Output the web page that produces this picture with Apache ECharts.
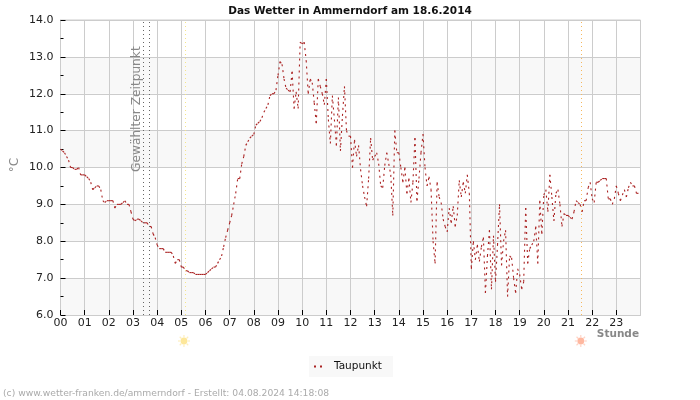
<!DOCTYPE html>
<html><head><meta charset="utf-8">
<script src="https://cdn.jsdelivr.net/npm/echarts@6/dist/echarts.min.js"></script>
<style>html,body{margin:0;padding:0;background:#fff}#c{width:700px;height:400px}</style>
</head><body><div id="c"></div>
<script>
const seriesName = 'Taupunkt';
const titleText = 'Das Wetter in Ammerndorf am 18.6.2014';
const footerText = '(c) www.wetter-franken.de/ammerndorf - Erstellt: 04.08.2024 14:18:08';
const selectedLabel = 'Gewählter Zeitpunkt';
const yAxisName = '°C';
const xAxisName = 'Stunde';
const hourLabels = ['00','01','02','03','04','05','06','07','08','09','10','11','12','13','14','15','16','17','18','19','20','21','22','23'];
const selectedHours = [3.43, 3.69];
const sunriseHour = 5.15;
const sunsetHour = 21.55;
// Dew point, one row per hour, one value every five minutes
const dewPoint = [
 10.5,10.45,10.4,10.3,10.2,10.0,10.0,9.95,9.95,10.0,9.8,9.8,
 9.8,9.75,9.7,9.6,9.4,9.45,9.5,9.5,9.4,9.1,9.05,9.1,
 9.1,9.1,9.1,8.9,9.0,9.0,9.0,9.05,9.1,9.0,9.0,8.8,
 8.6,8.55,8.6,8.6,8.55,8.5,8.5,8.5,8.4,8.4,8.2,8.1,
 7.9,7.8,7.8,7.8,7.7,7.7,7.7,7.7,7.6,7.4,7.5,7.5,
 7.3,7.3,7.2,7.2,7.15,7.15,7.15,7.1,7.1,7.1,7.1,7.1,
 7.1,7.15,7.2,7.25,7.3,7.3,7.4,7.5,7.6,7.85,8.1,8.3,
 8.5,8.7,9.0,9.3,9.7,9.7,10.1,10.3,10.6,10.7,10.8,10.85,
 10.9,11.15,11.2,11.25,11.35,11.5,11.6,11.7,11.95,12.0,12.0,12.1,
 12.5,12.87,12.8,12.4,12.15,12.1,12.05,12.6,11.6,12.05,11.6,13.4,
 13.35,13.4,12.9,12.0,12.4,12.3,11.75,11.2,12.4,12.2,12.0,11.7,
 12.4,11.3,10.65,11.95,11.3,10.6,11.9,10.45,11.4,12.2,11.0,10.85,
 10.85,10.0,10.75,10.3,10.6,9.95,9.5,9.2,8.95,9.7,10.8,10.2,
 10.3,10.4,10.1,9.5,9.45,10.05,10.4,10.1,9.8,8.7,11.0,10.4,
 10.4,10.0,9.6,10.0,9.3,9.7,9.05,9.6,10.8,9.1,9.7,10.4,
 10.9,10.0,9.5,9.75,9.4,8.0,7.4,9.6,9.2,9.05,8.6,8.4,
 8.25,8.9,8.5,8.95,8.4,8.7,9.65,9.2,9.6,9.3,9.8,9.3,
 7.25,8.0,7.5,7.9,7.45,7.85,8.1,6.6,7.6,8.3,6.7,8.15,
 6.9,7.9,9.0,7.35,8.0,8.3,6.5,7.6,7.55,7.0,6.6,7.25,
 7.1,6.7,6.9,8.9,7.4,7.8,7.9,8.0,8.4,7.4,9.1,8.2,
 9.25,9.4,8.8,9.8,9.2,8.55,9.3,9.4,9.0,8.4,8.75,8.7,
 8.7,8.65,8.6,8.8,9.1,9.05,9.0,8.8,9.1,9.1,9.45,9.6,
 9.15,9.05,9.6,9.6,9.65,9.7,9.7,9.7,9.15,9.15,9.0,9.15,
 9.5,9.3,9.1,9.25,9.4,9.2,9.45,9.6,9.5,9.5,9.3,9.3
];
const FONT = '"DejaVu Sans"';
const LINE = '#aa2222';
const chart = echarts.init(document.getElementById('c'), null, {renderer:'canvas'});
const points = dewPoint.map((v,i)=>[i/12, v]);
const vline = (x,color)=>({xAxis:x, lineStyle:{color, type:[1,3], width:1}});
// each five-minute step starts its own dash pattern, as in the reference
function renderStep(params, api){
  const i = params.dataIndexInside;
  if(i===0) return null;
  const a = api.coord([api.value(0,i-1), api.value(1,i-1)]);
  const b = api.coord([api.value(0,i), api.value(1,i)]);
  return {type:'line',shape:{x1:a[0],y1:a[1],x2:b[0],y2:b[1]},
    style:{stroke:LINE,lineWidth:1.1,lineDash:[2,4],fill:null}};
}
chart.setOption({
  animation:false,
  backgroundColor:'#fff',
  title:{text:titleText,left:'center',top:1,textStyle:{fontFamily:FONT,fontSize:10.5,fontWeight:'bold',color:'#111'}},
  grid:{left:60.5,right:59.5,top:20,bottom:85,show:true,borderColor:'#ccc',borderWidth:1,backgroundColor:'transparent'},
  legend:{left:309,top:356,padding:[5,11,5,5],itemWidth:8,itemHeight:2,itemGap:0,backgroundColor:'#f8f8f8',
    textStyle:{fontFamily:FONT,fontSize:10.5,color:'#111',padding:[0,0,0,7]},
    data:[{name:seriesName,icon:'path://M0 0h2v2H0z M6 0h2v2H6z'}]},
  xAxis:{type:'value',min:0,max:24,interval:1,
    axisLine:{lineStyle:{color:'#ccc'}},
    axisTick:{inside:true,length:5,lineStyle:{color:'#000'}},
    axisLabel:{fontFamily:FONT,fontSize:11,color:'#222',margin:3,showMaxLabel:false,formatter:v=>hourLabels[v]},
    splitLine:{show:true,lineStyle:{color:'#ccc'}}},
  yAxis:{type:'value',min:6,max:14,interval:1,
    axisLine:{show:true,lineStyle:{color:'#ccc'}},
    axisTick:{show:true,inside:true,length:5,lineStyle:{color:'#000'}},
    minorTick:{show:true,splitNumber:2,length:3,lineStyle:{color:'#000'}},
    axisLabel:{fontFamily:FONT,fontSize:11,color:'#222',margin:7,formatter:v=>v.toFixed(1)},
    splitLine:{show:true,lineStyle:{color:'#ccc'}},
    splitArea:{show:true,areaStyle:{color:['#f8f8f8','#ffffff']}}},
  series:[{
    name:seriesName,type:'custom',data:points,renderItem:renderStep,
    encode:{x:0,y:1},itemStyle:{color:LINE},clip:true,
    markLine:{silent:true,symbol:'none',label:{show:false},
      data:[...selectedHours.map(h=>vline(h,'#666')),vline(sunriseHour,'#f5e58a'),vline(sunsetHour,'#f5b860')]}
  }]
});
function sun(cx,cy,fill,ray){
  const kids=[{type:'circle',shape:{cx:0,cy:0,r:3.4},style:{fill}}];
  for(let i=0;i<8;i++){const a=i*Math.PI/4;
    kids.push({type:'line',shape:{x1:3.6*Math.cos(a),y1:3.6*Math.sin(a),x2:6*Math.cos(a),y2:6*Math.sin(a)},style:{stroke:ray,lineWidth:1.2,fill:null}});}
  return {type:'group',x:cx,y:cy,children:kids};
}
const px=h=>chart.convertToPixel({xAxisIndex:0},h);
chart.setOption({graphic:[
  {type:'text',x:px(selectedHours[0])-7,y:172,rotation:Math.PI/2,style:{text:selectedLabel,fontFamily:FONT,fontSize:12.2,fill:'#888',textAlign:'left',textVerticalAlign:'middle'}},
  {type:'text',x:15,y:165,rotation:Math.PI/2,style:{text:yAxisName,fontFamily:FONT,fontSize:12,fill:'#888',textAlign:'center',textVerticalAlign:'middle'}},
  {type:'text',x:639,y:334,style:{text:xAxisName,fontFamily:FONT,fontSize:10.5,fontWeight:'bold',fill:'#888',textAlign:'right',textVerticalAlign:'middle'}},
  {type:'text',x:3,y:393.5,style:{text:footerText,fontFamily:FONT,fontSize:9.2,fill:'#aaa',textAlign:'left',textVerticalAlign:'middle'}},
  sun(px(sunriseHour)-1,341,'#fde79a','#fdeebf'),
  sun(px(sunsetHour)-0.5,341,'#ffb8a0','#ffd4c6')
]});
</script></body></html>
